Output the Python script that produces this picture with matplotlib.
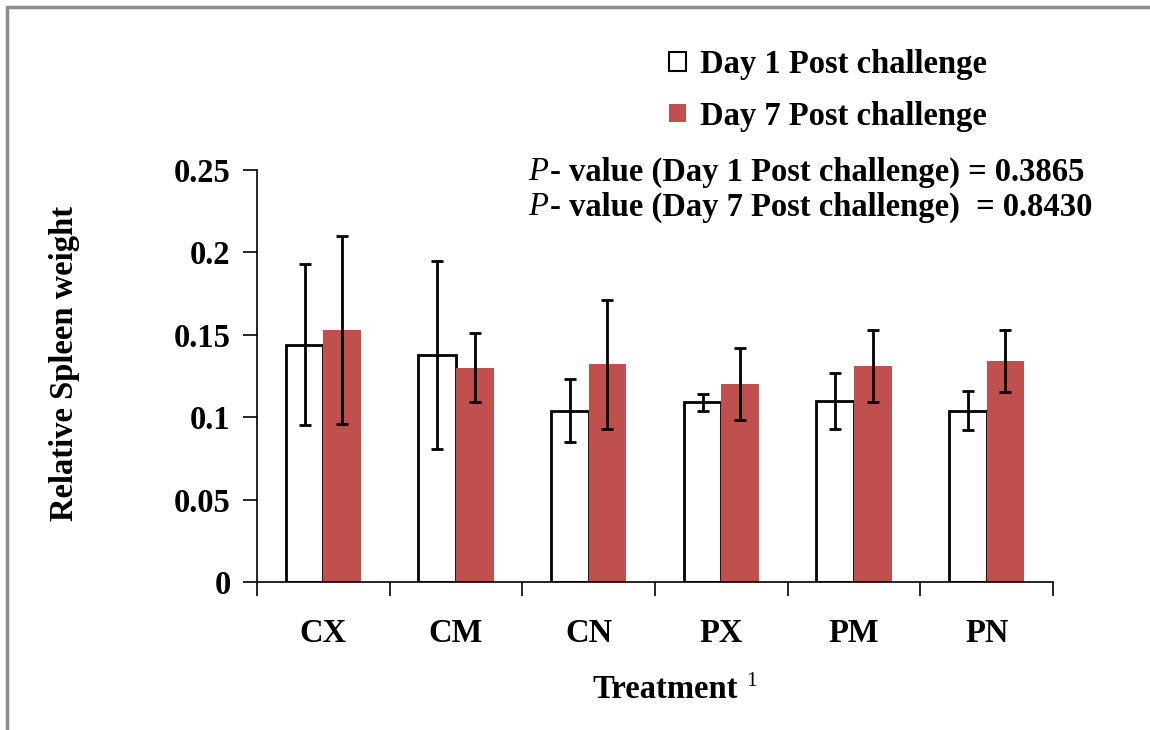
import numpy as np
import matplotlib.pyplot as plt
from matplotlib.patches import Rectangle, Patch

# relative spleen weight per treatment
treatments = ['CX', 'CM', 'CN', 'PX', 'PM', 'PN']
day1_mean = [0.144, 0.138, 0.104, 0.109, 0.110, 0.104]
day1_err = [0.049, 0.057, 0.019, 0.005, 0.017, 0.012]
day7_mean = [0.153, 0.130, 0.132, 0.120, 0.131, 0.134]
day7_err = [0.057, 0.021, 0.039, 0.022, 0.022, 0.019]
yticks = [0, 0.05, 0.1, 0.15, 0.2, 0.25]
ytick_labels = ['0', '0.05', '0.1', '0.15', '0.2', '0.25']
series_names = ['Day 1 Post challenge', 'Day 7 Post challenge']
pvals = ['0.3865', '0.8430']

RED = '#C0504D'
FONT = 'Liberation Serif'
FS = 23.5

plt.rcParams['font.family'] = FONT
plt.rcParams['font.weight'] = 'bold'

W, H = 1150, 730
fig = plt.figure(figsize=(W / 100, H / 100), dpi=100)

def fx(px):
    return px / W

def fy(py):
    return 1 - py / H

ax = fig.add_axes([fx(257), fy(582), fx(1053) - fx(257), fy(170) - fy(582)])

x = np.arange(len(treatments))
bw = 0.283
errkw = dict(ecolor='black', elinewidth=2, capsize=4.5, capthick=2)
ax.bar(x - bw / 2, day1_mean, bw, color='white', edgecolor='black', linewidth=2,
       yerr=day1_err, error_kw=errkw, zorder=2)
ax.bar(x + bw / 2, day7_mean, bw, color=RED, edgecolor='none',
       yerr=day7_err, error_kw=errkw, zorder=2)

ax.set_xlim(-0.5, len(treatments) - 0.5)
ax.set_ylim(0, 0.25)
ax.set_yticks(yticks)
ax.set_yticklabels(ytick_labels, fontsize=FS, fontweight='bold')
ax.set_xticks(np.arange(len(treatments) + 1) - 0.5)
ax.set_xticklabels([])
ax.set_xticks(x, minor=True)
ax.set_xticklabels(treatments, minor=True, fontsize=FS, fontweight='bold')
ax.tick_params(axis='x', which='major', direction='out', length=10, width=1.2)
ax.tick_params(axis='x', which='minor', length=0, pad=26)
ax.tick_params(axis='y', direction='out', length=10, width=1.2, pad=9)
for s in ['top', 'right']:
    ax.spines[s].set_visible(False)
for s in ['left', 'bottom']:
    ax.spines[s].set_linewidth(1.2)

# axis titles
fig.text(fx(65), fy(363), 'Relative Spleen weight', rotation=90, ha='center', va='center',
         fontsize=FS, fontweight='bold')
fig.text(fx(592), fy(690), 'Treatment', ha='left', va='center',
         fontsize=FS, fontweight='bold')
fig.text(fx(746), fy(682), '1', ha='left', va='center',
         fontsize=FS * 0.65, fontweight='normal')

# legend
handles = [Patch(facecolor='white', edgecolor='black', linewidth=1.5),
           Patch(facecolor=RED, edgecolor='none')]
fig.legend(handles, series_names, loc='upper left', bbox_to_anchor=(fx(640), fy(20)),
           frameon=False, handlelength=0.5, handleheight=0.5,
           handletextpad=0.45, labelspacing=0.62,
           prop={'family': FONT, 'weight': 'bold', 'size': FS})

# p-values
for i, (lab, pv) in enumerate(zip(['Day 1 Post challenge)', 'Day 7 Post challenge) '], pvals)):
    yy = fy(172 + i * 35)
    fig.text(fx(528), yy, 'P', fontsize=FS, style='italic', fontweight='normal', va='center')
    fig.text(fx(550), yy, '- value (' + lab + ' = ' + pv, fontsize=FS,
             fontweight='bold', va='center')

# gray frame around the chart
fig.patches.append(Rectangle((fx(7), -0.05), 1.2, fy(7) + 0.05, transform=fig.transFigure,
                             fill=False, edgecolor='#8c8c8c', linewidth=2.5))

fig.savefig('out.png', dpi=100)
